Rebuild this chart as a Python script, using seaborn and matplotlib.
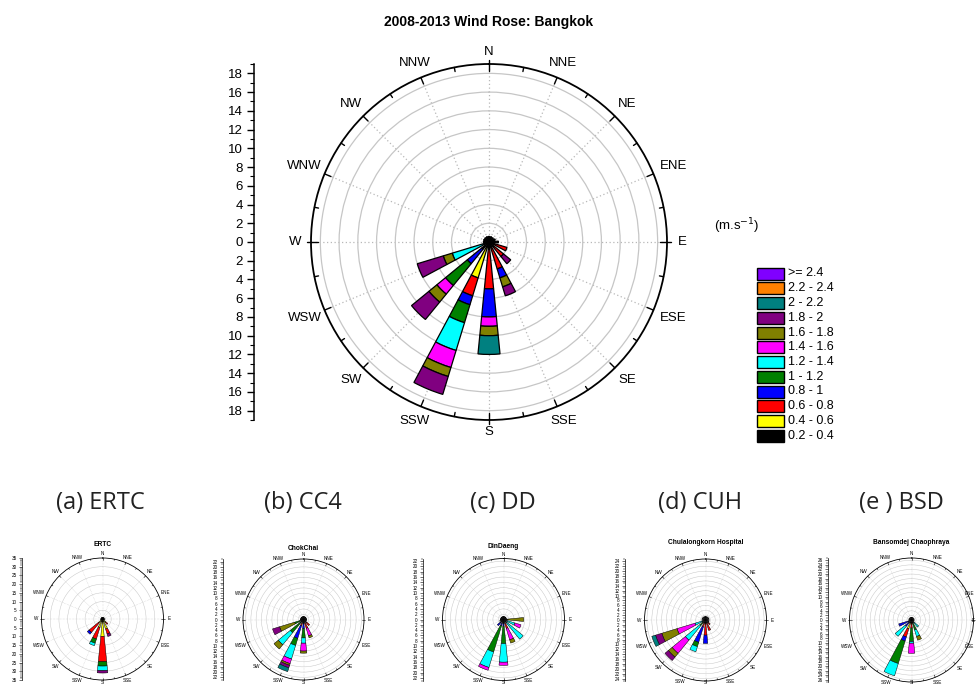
import numpy as np
import matplotlib
matplotlib.use("Agg")
import matplotlib.pyplot as plt
from matplotlib.patches import Rectangle
from matplotlib.ticker import MultipleLocator
import seaborn as sns

W, H = 976, 686

DIRECTIONS = ["N", "NNE", "NE", "ENE", "E", "ESE", "SE", "SSE",
              "S", "SSW", "SW", "WSW", "W", "WNW", "NW", "NNW"]
SPEED_BINS = ["0.2 - 0.4", "0.4 - 0.6", "0.6 - 0.8", "0.8 - 1", "1 - 1.2",
              "1.2 - 1.4", "1.4 - 1.6", "1.6 - 1.8", "1.8 - 2", "2 - 2.2",
              "2.2 - 2.4", ">= 2.4"]
BIN_COLORS = ["#000000", "#ffff00", "#ff0000", "#0000ff", "#008000",
              "#00ffff", "#ff00ff", "#808000", "#800080", "#008080",
              "#ff8000", "#8000ff"]

# Frequency (%) per speed bin, listed from the slowest bin outwards.
BANGKOK = {
    "N": [0.6], "NNE": [0.6], "NE": [0.6], "ENE": [0.7], "E": [1.0],
    "ESE": [0.6, 0, 1.4],
    "SE": [0.6, 0, 1.4, 0, 0, 0, 0, 0, 1.0],
    "SSE": [0.6, 0, 2.4, 1.0, 0, 0, 0, 1.0, 1.0],
    "S": [0.7, 0, 4.3, 3.0, 0, 0, 1.0, 1.0, 0, 2.0],
    "SSW": [0.6, 3.4, 2.0, 1.0, 2.0, 3.1, 1.9, 1.0, 2.0],
    "SW": [1.0, 0, 0, 2.0, 3.0, 0, 1.2, 1.1, 2.4],
    "WSW": [0.6, 0, 0, 0, 0, 3.5, 0, 1.0, 2.9],
    "W": [0.6], "WNW": [0.6], "NW": [0.6], "NNW": [0.6],
}
ERTC = {
    "N": [1.0], "NNE": [1.0], "NE": [1.2], "ENE": [1.0], "E": [1.5],
    "ESE": [1.2], "SE": [1.0, 1.5, 1.5],
    "SSE": [1.0, 5.0, 3.0, 0, 0, 0, 0, 0, 1.5],
    "S": [1.0, 9.0, 14.5, 0, 2.5, 2.7, 0, 0, 1.3],
    "SSW": [1.0, 4.0, 7.0, 0, 2.5, 1.5],
    "SW": [1.0, 2.0, 7.0, 1.3],
    "WSW": [1.2], "W": [1.0], "WNW": [1.0], "NW": [1.0], "NNW": [1.0],
}
CHOKCHAI = {
    "N": [1.2], "NNE": [1.2], "NE": [1.2], "ENE": [1.2], "E": [1.2],
    "ESE": [1.2], "SE": [1.5, 0, 1.5],
    "SSE": [1.5, 0, 2.0, 0, 0, 0, 3.0, 0.8],
    "S": [1.5, 0, 0, 2.0, 3.5, 2.0, 3.0, 0.8],
    "SSW": [1.5, 0, 1.0, 5.0, 2.8, 5.4, 1.8, 0.7, 1.0, 1.5],
    "SW": [1.5, 0, 0, 0, 5.0, 5.9, 0, 2.1],
    "WSW": [1.5, 0, 0, 0, 2.0, 0, 0, 6.0, 2.8],
    "W": [1.2], "WNW": [1.2], "NW": [1.2], "NNW": [1.2],
}
DINDAENG = {
    "N": [1.2], "NNE": [1.2], "NE": [1.2], "ENE": [1.2],
    "E": [1.5, 0, 0, 0, 0, 0, 0, 6.1],
    "ESE": [1.5, 0, 0, 0, 0, 3.0, 2.4],
    "SE": [1.5, 0, 0, 0, 0, 8.1],
    "SSE": [1.5, 0, 2.0, 0, 0, 0, 4.5, 1.3],
    "S": [1.5, 0, 0, 1.0, 6.6, 7.0, 1.2],
    "SSW": [1.5, 0, 0, 1.0, 10.3, 6.1, 1.1],
    "SW": [1.5, 0, 0, 1.5], "WSW": [1.5],
    "W": [1.2], "WNW": [1.2], "NW": [1.2], "NNW": [1.2],
}
CUH = {
    "N": [1.5], "NNE": [1.5], "NE": [1.5], "ENE": [1.5], "E": [1.5],
    "ESE": [1.5], "SE": [1.5, 0, 1.0], "SSE": [1.5, 0, 3.0],
    "S": [1.5, 0, 4.7, 3.4],
    "SSW": [1.5, 0, 1.5, 6.6, 1.8, 2.2],
    "SW": [1.5, 0, 0, 0, 1.5, 7.7, 7.0, 2.0, 1.8],
    "WSW": [1.5, 0, 0, 0, 0, 3.0, 7.7, 6.5, 2.7, 1.6],
    "W": [1.5], "WNW": [1.5], "NW": [1.5], "NNW": [1.5],
}
BSD = {
    "N": [1.2], "NNE": [1.2], "NE": [1.2], "ENE": [1.2], "E": [1.2],
    "ESE": [1.2], "SE": [1.5, 0, 0, 0, 0, 2.5],
    "SSE": [1.5, 0, 0, 0, 3.0, 3.0, 0, 1.7],
    "S": [1.5, 0, 2.0, 0, 5.9, 0.7, 4.4],
    "SSW": [1.5, 2.5, 3.7, 1.9, 10.2, 5.6],
    "SW": [1.5, 0, 0, 2.0, 0, 5.7],
    "WSW": [1.5, 0, 0, 4.3],
    "W": [1.2], "WNW": [1.2], "NW": [1.2], "NNW": [1.2],
}

sns.set_style("white")
plt.rcParams["font.family"] = ["Liberation Sans", "DejaVu Sans"]
plt.rcParams["text.color"] = "black"
plt.rcParams["xtick.color"] = "black"
plt.rcParams["ytick.color"] = "black"
plt.rcParams["axes.labelcolor"] = "black"
palette = sns.color_palette(BIN_COLORS)

fig = plt.figure(figsize=(W / 100, H / 100), dpi=100)


def px_box(cx, cy, r):
    return [(cx - r) / W, (H - cy - r) / H, 2 * r / W, 2 * r / H]


def draw_rose(data, cx, cy, r_px, rmax, ring_step, axis_x, label_step,
              minor_step, title=None, title_y=None):
    s = r_px / 178.0
    ppu = r_px / rmax
    ax = fig.add_axes(px_box(cx, cy, r_px), projection="polar")
    ax.set_theta_zero_location("N")
    ax.set_theta_direction(-1)
    ax.set_ylim(0, rmax)
    ax.set_yticks(np.arange(ring_step, rmax - 1e-6, ring_step))
    ax.set_yticklabels([])
    ax.set_xticks(np.deg2rad(np.arange(0, 360, 22.5)))
    ax.set_xticklabels([])
    ax.tick_params(length=0)
    ax.grid(True)
    ax.yaxis.grid(True, color="#c6c6c6", linestyle="-", linewidth=max(0.9 * s, 0.35))
    ax.xaxis.grid(True, color="#b8b8b8", linestyle=(0, (1, 2)),
                  linewidth=max(0.9 * s, 0.35))
    ax.spines["polar"].set_color("black")
    ax.spines["polar"].set_linewidth(max(1.3 * s, 0.6))
    ax.set_axisbelow(True)

    width = np.deg2rad(11.25)
    for i, d in enumerate(DIRECTIONS):
        theta = np.deg2rad(i * 22.5)
        bottom = 0.0
        for b, length in enumerate(data.get(d, [])):
            if length <= 0:
                continue
            ax.bar(theta, length, width=width, bottom=bottom,
                   color=palette[b], edgecolor="black",
                   linewidth=max(0.9 * s, 0.35), zorder=3)
            bottom += length

    # ticks on the outer circle
    for k in range(32):
        th = np.deg2rad(k * 11.25)
        if k % 8 == 0:
            r0, r1 = rmax - 5 / ppu * s * 1.4, rmax + 3 / ppu * s * 1.4
        elif k % 2 == 0:
            r0, r1 = rmax - 5 / ppu * s * 1.4, rmax
        else:
            r0, r1 = rmax - 3 / ppu * s * 1.4, rmax
        ax.plot([th, th], [r0, r1], color="black",
                linewidth=max(1.0 * s, 0.4), clip_on=False, zorder=5)

    fs = 9.5 * s if s < 0.9 else 9.5
    fs = max(fs, 3.3)
    em_px = fs * 100 / 72.0
    for i, d in enumerate(DIRECTIONS):
        th = np.deg2rad(i * 22.5)
        wpx = len(d) * 7.0 * s
        off = 12 * s + 0.5 * wpx * abs(np.sin(th))
        rl = r_px + off
        x = cx + rl * np.sin(th)
        y = cy - rl * np.cos(th)
        half_w = 0.36 * em_px * len(d)
        half_h = 0.5 * em_px
        x = min(x, W - 1.5 - half_w)
        y = min(y, H - 1.0 - half_h)
        fig.text(x / W, 1 - y / H, d, ha="center", va="center",
                 fontsize=fs, color="black")

    # linear scale on the left
    lax = fig.add_axes([axis_x / W, (H - cy - r_px) / H, 0.0001, 2 * r_px / H])
    lax.patch.set_alpha(0)
    lax.set_ylim(-rmax, rmax)
    lax.set_xticks([])
    for side in ["top", "right", "bottom"]:
        lax.spines[side].set_visible(False)
    lax.spines["left"].set_color("black")
    lax.spines["left"].set_linewidth(max(1.1 * s, 0.5))
    top = label_step * np.floor(rmax / label_step + 1e-9)
    ticks = np.arange(-top, top + 1e-9, label_step)
    lax.set_yticks(ticks)
    lax.set_yticklabels([f"{abs(t):g}" for t in ticks])
    lax.yaxis.set_minor_locator(MultipleLocator(minor_step))
    lax.tick_params(axis="y", which="major", direction="out", left=True,
                    length=5 * s * 1.2 if s < 0.9 else 5,
                    width=max(1.0 * s, 0.4), labelsize=fs, pad=2 * s + 1,
                    colors="black")
    lax.tick_params(axis="y", which="minor", direction="out", left=True,
                    length=3 * s * 1.2 if s < 0.9 else 3,
                    width=max(0.8 * s, 0.35))

    if title is not None:
        fig.text(cx / W, 1 - title_y / H, title, ha="center", va="center",
                 fontsize=4.8, fontweight="bold")
    return ax


# main rose
draw_rose(BANGKOK, 489, 242, 178, 19, 2, 254, 2, 1)
fig.text(489 / W, 1 - 22 / H, "2008-2013 Wind Rose: Bangkok", ha="center",
         va="center", fontsize=10, fontweight="bold")
fig.text(737 / W, 1 - 226 / H, r"(m.s$^{-1}$)", ha="center", va="center",
         fontsize=9.5)

# legend in pixel coordinates
ov = fig.add_axes([0, 0, 1, 1])
ov.set_xlim(0, W)
ov.set_ylim(H, 0)
ov.axis("off")
ov.patch.set_alpha(0)
for j, b in enumerate(range(len(SPEED_BINS) - 1, -1, -1)):
    yc = 273.5 + j * 14.75
    ov.add_patch(Rectangle((757, yc - 6), 27, 12, facecolor=palette[b],
                           edgecolor="black", linewidth=1.0))
    ov.text(788, yc, SPEED_BINS[b], ha="left", va="center", fontsize=9)

# station roses
draw_rose(ERTC, 102.5, 619, 61, 35, 5, 22, 5, 1, "ERTC", 545)
draw_rose(CHOKCHAI, 303.5, 619.5, 60.5, 23, 2, 223, 2, 1, "ChokChai", 548)
draw_rose(DINDAENG, 503.5, 619.5, 61, 23, 2, 423, 2, 1, "DinDaeng", 547)
draw_rose(CUH, 705.5, 620, 61, 25, 2, 625, 2, 1, "Chulalongkorn Hospital", 543)
draw_rose(BSD, 911.5, 620, 62, 27, 2, 828, 2, 1, "Bansomdej Chaophraya", 542)

captions = [("(a) ERTC", 100), ("(b) CC4", 303), ("(c) DD", 503),
            ("(d) CUH", 700), ("(e ) BSD", 901)]
for text, x in captions:
    fig.text(x / W, 1 - 503 / H, text, ha="center", va="center",
             fontsize=17, color="#222222", family=["Open Sans", "DejaVu Sans"])

fig.savefig("out.png", dpi=100)
